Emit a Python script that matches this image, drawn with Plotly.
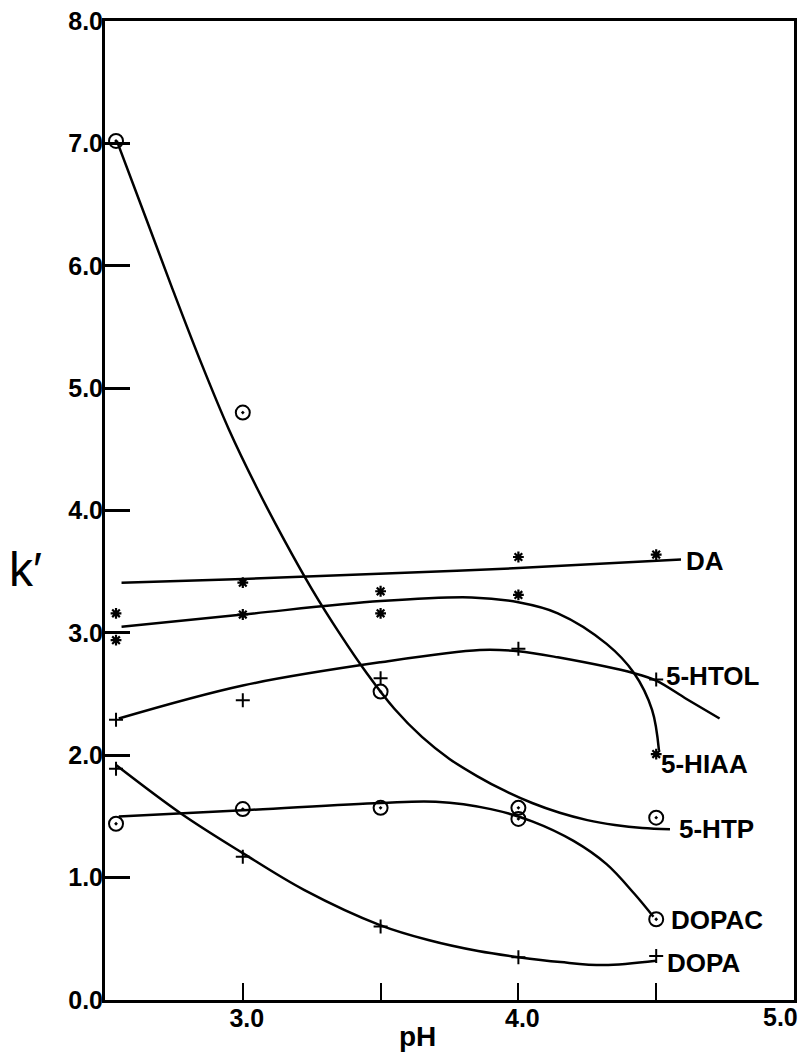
import plotly.graph_objects as go

# ---- measured points (pH, k') ----
ph_points = [2.54, 3.0, 3.5, 4.0, 4.5]
da_k = [3.16, 3.41, 3.34, 3.62, 3.64]
hiaa_k = [2.94, 3.15, 3.16, 3.31, 2.01]
htol_k = [2.29, 2.45, 2.63, 2.87, 2.62]
htp_k = [7.02, 4.80, 2.52, 1.57, 1.49]
dopac_k = [1.44, 1.56, 1.57, 1.48, 0.66]
dopa_k = [1.89, 1.17, 0.60, 0.35, 0.36]

# ---- fitted curves ----
htp_curve_ph = [2.543, 2.65, 2.75, 2.85, 2.95, 3.05, 3.15, 3.25, 3.35, 3.45,
                3.55, 3.65, 3.75, 3.85, 3.95, 4.05, 4.15, 4.25, 4.35, 4.45, 4.55]
htp_curve_k = [7.02, 6.38, 5.78, 5.20, 4.66, 4.19, 3.76, 3.36, 3.00, 2.67,
               2.38, 2.15, 1.97, 1.83, 1.71, 1.61, 1.53, 1.47, 1.43, 1.405, 1.395]

da_curve_ph = [2.56, 3.0, 3.565, 4.0, 4.59]
da_curve_k = [3.41, 3.44, 3.49, 3.53, 3.60]

hiaa_curve_ph = [2.56, 3.0, 3.5, 3.83, 4.0, 4.143, 4.32, 4.42, 4.485, 4.51]
hiaa_curve_k = [3.05, 3.15, 3.26, 3.29, 3.25, 3.16, 2.91, 2.67, 2.37, 2.04]

htol_curve_ph = [2.55, 3.0, 3.5, 3.86, 4.0, 4.143, 4.42, 4.50, 4.61, 4.73]
htol_curve_k = [2.30, 2.57, 2.76, 2.86, 2.85, 2.80, 2.67, 2.61, 2.46, 2.30]

dopac_curve_ph = [2.55, 3.0, 3.5, 3.7, 3.9, 4.05, 4.2, 4.32, 4.42, 4.49]
dopac_curve_k = [1.50, 1.55, 1.61, 1.62, 1.56, 1.46, 1.30, 1.11, 0.87, 0.68]

dopa_curve_ph = [2.54, 2.778, 3.0, 3.222, 3.5, 3.673, 3.854, 4.0, 4.153, 4.31, 4.50]
dopa_curve_k = [1.92, 1.52, 1.20, 0.90, 0.61, 0.49, 0.40, 0.35, 0.31, 0.285, 0.32]

# ---- curve labels ----
label_text = ["DA", "5-HTOL", "5-HIAA", "5-HTP", "DOPAC", "DOPA"]
label_ph = [4.601, 4.529, 4.51, 4.576, 4.547, 4.532]
label_k = [3.59, 2.65, 1.93, 1.40, 0.65, 0.30]

x_tickvals = [3.0, 3.5, 4.0, 4.5, 5.0]
x_ticktext = ["3.0", "", "4.0", "", ""]
x_last_label = "5.0"
y_tickvals = [0, 1, 2, 3, 4, 5, 6, 7, 8]
y_ticktext = ["0.0", "1.0", "2.0", "3.0", "4.0", "5.0", "6.0", "7.0", "8.0"]

fig = go.Figure()

curve_style = dict(color="black", width=2.5, shape="spline")
for cx, cy in [(htp_curve_ph, htp_curve_k), (da_curve_ph, da_curve_k),
               (hiaa_curve_ph, hiaa_curve_k), (htol_curve_ph, htol_curve_k),
               (dopac_curve_ph, dopac_curve_k), (dopa_curve_ph, dopa_curve_k)]:
    fig.add_trace(go.Scatter(x=cx, y=cy, mode="lines", line=curve_style,
                             showlegend=False, hoverinfo="skip"))

circle = dict(symbol="circle-open-dot", size=14, color="black",
              line=dict(color="black", width=2))
star = dict(symbol="asterisk-open", size=9, color="black",
            line=dict(color="black", width=2.2))
plus = dict(symbol="cross-thin-open", size=10, color="black",
            line=dict(color="black", width=2))

for ks, m in [(htp_k, circle), (dopac_k, circle), (da_k, star),
              (hiaa_k, star), (htol_k, plus), (dopa_k, plus)]:
    fig.add_trace(go.Scatter(x=ph_points, y=ks, mode="markers", marker=m,
                             showlegend=False, cliponaxis=False))

for t, x, y in zip(label_text, label_ph, label_k):
    fig.add_annotation(x=x, y=y, text=t, showarrow=False, xanchor="left",
                       yanchor="middle", xref="x", yref="y",
                       font=dict(family="Liberation Sans", size=26,
                                 color="black", weight="bold"))

axis_font = dict(family="Liberation Sans", size=25, color="black", weight="bold")

fig.add_annotation(x=-0.116, y=3.52, xref="paper", yref="y", text="k′",
                   showarrow=False, xanchor="center", yanchor="middle",
                   font=dict(family="Liberation Sans", size=48, color="black"))
fig.add_annotation(x=3.634, y=-0.037, xref="x", yref="paper", text="pH",
                   showarrow=False, xanchor="center", yanchor="middle",
                   font=dict(family="Liberation Sans", size=28, color="black",
                             weight="bold"))
fig.add_annotation(x=5.0, y=-0.017, xref="x", yref="paper", text=x_last_label,
                   showarrow=False, xanchor="center", yanchor="middle",
                   xshift=-14, font=axis_font)

fig.update_xaxes(range=[2.5, 5.0], tickvals=x_tickvals, ticktext=x_ticktext,
                 ticks="inside", ticklen=17, tickwidth=2, tickcolor="black",
                 showline=True, linecolor="black", linewidth=3, mirror=True,
                 showgrid=False, zeroline=False, tickfont=axis_font,
                 ticklabelstandoff=-6, ticklabelshift=4)
fig.update_yaxes(range=[0, 8.0], tickvals=y_tickvals, ticktext=y_ticktext,
                 ticks="inside", ticklen=25, tickwidth=2.5, tickcolor="black",
                 showline=True, linecolor="black", linewidth=3, mirror=True,
                 showgrid=False, zeroline=False, tickfont=axis_font,
                 ticklabelstandoff=-6)

fig.update_layout(width=804, height=1054,
                  margin=dict(l=105, r=7, t=19, b=54),
                  plot_bgcolor="white", paper_bgcolor="white",
                  showlegend=False)

fig.write_html("out.html")
